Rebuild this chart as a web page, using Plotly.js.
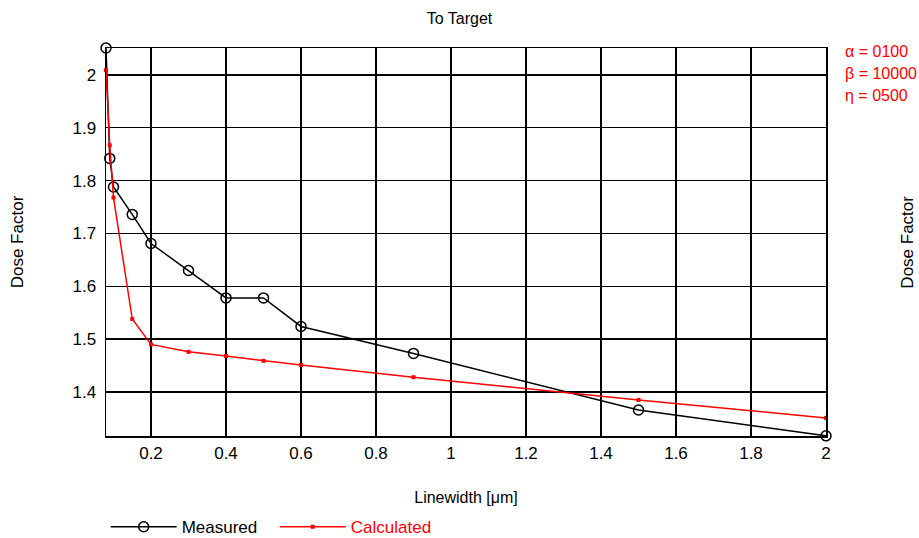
<!DOCTYPE html>
<html><head><meta charset="utf-8">
<script src="https://cdn.plot.ly/plotly-3.0.1.min.js"></script>
<style>body{margin:0;background:#fff}#c{width:919px;height:538px}</style>
</head><body><div id="c"></div>
<script>
const linewidth = [0.08, 0.09, 0.1, 0.15, 0.2, 0.3, 0.4, 0.5, 0.6, 0.9, 1.5, 2];
const measured = [2.051, 1.842, 1.788, 1.736, 1.681, 1.630, 1.578, 1.578, 1.524, 1.473, 1.366, 1.317];
const calculated = [2.009, 1.867, 1.768, 1.538, 1.490, 1.476, 1.468, 1.459, 1.451, 1.428, 1.385, 1.351];
const params = ["α = 0100", "β = 10000", "η = 0500"];

const font = "Liberation Sans, Arial, sans-serif";
const traces = [
  {x: linewidth, y: measured, name: "Measured", mode: "lines+markers", legend: "legend",
   line: {color: "#000", width: 1.5},
   marker: {symbol: "circle-open", size: 10, color: "#000", line: {width: 1.5}},
   cliponaxis: false},
  {x: linewidth, y: calculated, name: '<span style="color:#ff0000">Calculated</span>', mode: "lines+markers", legend: "legend2",
   line: {color: "#ff0000", width: 1.5},
   marker: {symbol: "square", size: 4, color: "#ff0000"},
   cliponaxis: false}
];
const annotations = params.map((t, i) => ({
  xref: "paper", yref: "paper", x: 1.023, y: 1 - i * 0.0567 - 0.01,
  xanchor: "left", yanchor: "middle", text: t, showarrow: false,
  font: {family: font, size: 16, color: "#ff0000"}
}));
annotations.push({xref: "paper", yref: "paper", x: 1.112, y: 0.5, textangle: -90,
  xanchor: "center", yanchor: "middle", text: "Dose Factor", showarrow: false,
  font: {family: font, size: 17, color: "#000"}});
const legendBase = {orientation: "h", xref: "container", xanchor: "left", y: 0.02, yref: "container", yanchor: "middle",
  font: {size: 17}, itemwidth: 66, bgcolor: "rgba(0,0,0,0)"};
const layout = {
  width: 919, height: 538,
  margin: {l: 106, r: 93, t: 48, b: 102, autoexpand: false},
  paper_bgcolor: "#fff", plot_bgcolor: "#fff",
  font: {family: font, size: 17, color: "#000"},
  title: {text: "To Target", font: {family: font, size: 16, color: "#000"}, x: 0.5, xanchor: "center", y: 0.966, yanchor: "middle"},
  xaxis: {range: [0.08, 2], dtick: 0.2, tick0: 0, showgrid: true, gridcolor: "#000", gridwidth: 1.3,
    showline: true, linecolor: "#000", linewidth: 1.5, mirror: true, zeroline: false, ticks: "",
    tickfont: {size: 17}, ticklabelstandoff: 1, automargin: false,
    title: {text: "Linewidth [μm]", font: {size: 16}, standoff: 30}},
  yaxis: {range: [1.3167, 2.051], dtick: 0.1, tick0: 0, showgrid: true, gridcolor: "#000", gridwidth: 1.3,
    showline: true, linecolor: "#000", linewidth: 1.5, mirror: true, zeroline: false, ticks: "",
    tickfont: {size: 17}, ticklabelstandoff: 5, automargin: false,
    title: {text: "Dose Factor", font: {size: 17}, standoff: 44}},
  showlegend: true,
  legend: Object.assign({}, legendBase, {x: 0.115}),
  legend2: Object.assign({}, legendBase, {x: 0.299}),
  annotations: annotations
};
Plotly.newPlot("c", traces, layout, {displayModeBar: false, staticPlot: true});
</script></body></html>
